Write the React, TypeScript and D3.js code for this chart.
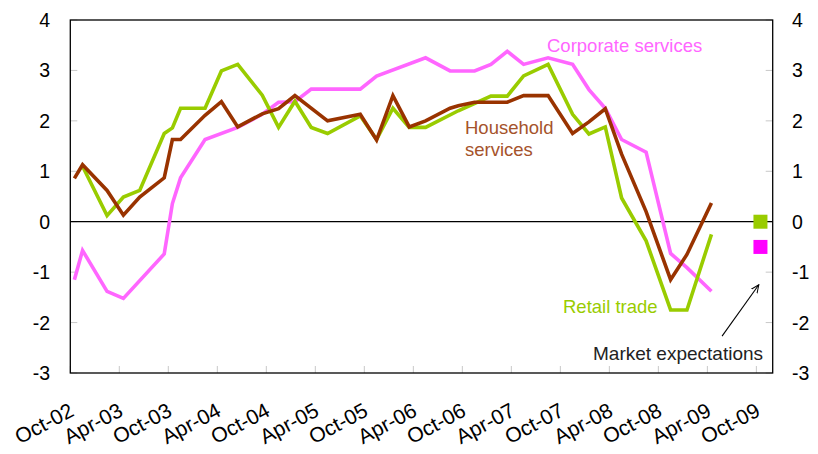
import React from "react";
import * as d3 from "d3";

// ---- Data (month index 0 = Oct-02) ----
const tickLabels = ["Oct-02","Apr-03","Oct-03","Apr-04","Oct-04","Apr-05","Oct-05","Apr-06","Oct-06","Apr-07","Oct-07","Apr-08","Oct-08","Apr-09","Oct-09"];
const yTicks = [4,3,2,1,0,-1,-2,-3];

const retailMonths = [1,4,6,8,11,12,13,16,18,20,23,25,27,29,31,35,37,39,41,43,47,51,53,55,58,61,63,65,67,70,73,75,78];
const retailValues = [1.1,0.12,0.49,0.62,1.75,1.86,2.25,2.25,2.99,3.12,2.51,1.87,2.39,1.87,1.75,2.1,1.63,2.25,1.87,1.87,2.2,2.49,2.49,2.89,3.12,2.13,1.74,1.88,0.47,-0.38,-1.75,-1.75,-0.25];

const householdMonths = [0,1,4,6,8,11,12,13,16,18,20,23,25,27,31,35,37,39,41,43,46,47,49,53,55,58,61,63,65,67,70,73,75,78];
const householdValues = [0.86,1.13,0.62,0.13,0.49,0.87,1.63,1.63,2.11,2.38,1.88,2.14,2.24,2.5,2.0,2.13,1.62,2.5,1.88,2.0,2.25,2.3,2.37,2.37,2.5,2.5,1.75,1.98,2.24,1.34,0.2,-1.15,-0.65,0.37];

const corporateMonths = [0,1,4,6,11,12,13,16,20,23,25,27,29,35,37,43,46,49,51,53,55,58,61,63,65,67,70,73,75,78];
const corporateValues = [-1.15,-0.57,-1.38,-1.52,-0.64,0.36,0.87,1.63,1.87,2.13,2.37,2.38,2.63,2.63,2.89,3.25,2.99,2.99,3.12,3.38,3.12,3.25,3.12,2.62,2.25,1.63,1.38,-0.63,-0.91,-1.38];

const expectationMonth = 84;
const expectationRetail = 0;
const expectationCorporate = -0.5;

const GREEN = "#99cc00";
const BROWN = "#993300";
const PINK = "#ff66ff";
const MAGENTA = "#ff00ff";
const FONT = "'Liberation Sans', Arial, sans-serif";

export default function App() {
  const W = 818, H = 454;
  const left = 70.3, right = 772.7, top = 20, bottom = 373;
  const x = d3.scaleLinear().domain([-0.5, 85.5]).range([left, right]);
  const y = d3.scaleLinear().domain([-3, 4]).range([bottom, top]);

  const line = d3.line<[number, number]>().x(d => x(d[0])).y(d => y(d[1]));
  const mk = (ms: number[], vs: number[]) => ms.map((m, i) => [m, vs[i]] as [number, number]);

  const series = [
    { data: mk(corporateMonths, corporateValues), color: PINK },
    { data: mk(retailMonths, retailValues), color: GREEN },
    { data: mk(householdMonths, householdValues), color: BROWN },
  ];

  const halfYears = d3.range(0, 85, 6);
  const sq = 14;

  const arrowFrom: [number, number] = [x(79.3), y(-2.27)];
  const arrowTo: [number, number] = [x(83.8), y(-1.25)];

  return (
    <svg width={W} height={H} style={{ position: "absolute", left: 0, top: 0, background: "#fff" }} fontFamily={FONT}>
      <defs>
        <marker id="arr" viewBox="0 0 10 10" refX="9" refY="5" markerWidth="9" markerHeight="9" orient="auto" markerUnits="userSpaceOnUse">
          <path d="M0,1 L9,5 L0,9" fill="none" stroke="#000" strokeWidth={1.1} />
        </marker>
      </defs>
      {/* inner ticks */}
      {yTicks.map(t => (
        <g key={"yt" + t}>
          <line x1={left} x2={left + 7} y1={y(t)} y2={y(t)} stroke="#c8c8c8" />
          <line x1={right - 7} x2={right} y1={y(t)} y2={y(t)} stroke="#c8c8c8" />
        </g>
      ))}
      {halfYears.map(m => (
        <line key={"xt" + m} x1={x(m - 0.5)} x2={x(m - 0.5)} y1={bottom - 7} y2={bottom} stroke="#c8c8c8" />
      ))}
      {/* zero line */}
      <line x1={left} x2={right} y1={y(0)} y2={y(0)} stroke="#000" strokeWidth={1.2} />
      {/* frame */}
      <rect x={left} y={top} width={right - left} height={bottom - top} fill="none" stroke="#000" strokeWidth={1.3} />

      {/* lines */}
      {series.map((s, i) => (
        <path key={i} d={line(s.data) || ""} fill="none" stroke={s.color} strokeWidth={3.6} strokeLinejoin="miter" strokeMiterlimit={3} />
      ))}

      {/* expectations */}
      <rect x={x(expectationMonth) - sq / 2} y={y(expectationRetail) - sq / 2} width={sq} height={sq} fill={GREEN} />
      <rect x={x(expectationMonth) - sq / 2} y={y(expectationCorporate) - sq / 2} width={sq} height={sq} fill={MAGENTA} />

      {/* y labels */}
      {yTicks.map(t => (
        <g key={"yl" + t} fontSize={19.5} fill="#000">
          <text x={50} y={y(t)} dy="0.36em" textAnchor="end">{t}</text>
          <text x={792} y={y(t)} dy="0.36em" textAnchor="start">{t}</text>
        </g>
      ))}

      {/* x labels */}
      {halfYears.map((m, i) => (
        <text key={"xl" + m} transform={`translate(${x(m) + 1},${415}) rotate(-28)`} textAnchor="end" fontSize={21} fill="#000">
          {tickLabels[i]}
        </text>
      ))}

      {/* series labels */}
      <text x={547} y={46} dy="0.35em" fontSize={18.5} fill={PINK}>Corporate services</text>
      <text x={465} y={128} dy="0.35em" fontSize={18.5} fill="#a5532b">Household</text>
      <text x={465} y={150} dy="0.35em" fontSize={18.5} fill="#a5532b">services</text>
      <text x={563} y={307} dy="0.35em" fontSize={18.5} fill={GREEN}>Retail trade</text>
      <text x={593} y={353} dy="0.35em" fontSize={19} fill="#222">Market expectations</text>
      <line x1={arrowFrom[0]} y1={arrowFrom[1]} x2={arrowTo[0]} y2={arrowTo[1]} stroke="#000" strokeWidth={1.1} markerEnd="url(#arr)" />
    </svg>
  );
}
